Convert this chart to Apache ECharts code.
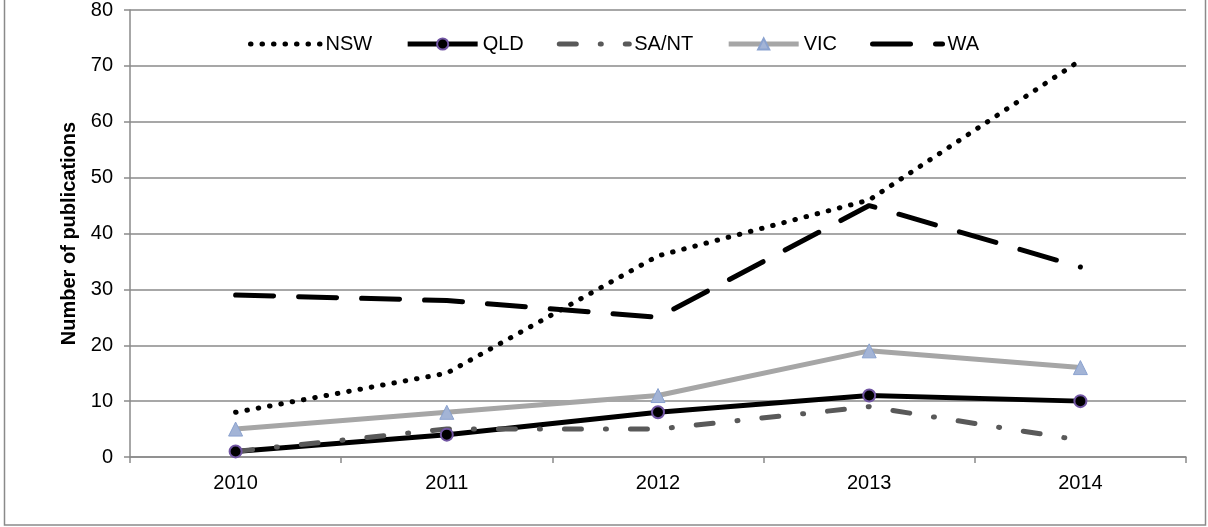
<!DOCTYPE html>
<html>
<head>
<meta charset="utf-8">
<script src="https://cdn.jsdelivr.net/npm/echarts@6/dist/echarts.min.js"></script>
<style>
html, body { margin: 0; padding: 0; background: #fff; }
#main { width: 1208px; height: 527px; }
</style>
</head>
<body>
<div id="main"></div>
<script>
// publications per state
var years = ['2010', '2011', '2012', '2013', '2014'];
var nsw = [8, 15, 36, 46, 71];
var qld = [1, 4, 8, 11, 10];
var sant = [1, 5, 5, 9, 3];
var vic = [5, 8, 11, 19, 16];
var wa = [29, 28, 25, 45, 34];
var yTicks = [0, 80, 10]; // min, max, step

var font = 'Liberation Sans, Arial, sans-serif';
var gridColor = '#8a8a8a';

var myChart = echarts.init(document.getElementById('main'));

var nswLine = { color: '#000', width: 5, type: [0.5, 11], cap: 'round' };
var qldLine = { color: '#000', width: 5 };
var santLine = { color: '#595959', width: 5, type: [17, 24, 1, 24], cap: 'round' };
var vicLine = { color: '#a6a6a6', width: 5 };
var waLine = { color: '#000', width: 5, type: [38, 25], cap: 'round' };
var noMark = { opacity: 0 };

option = {
	backgroundColor : '#ffffff',
	animation : false,
	textStyle : { fontFamily : font },
	graphic : [ {
		type : 'rect',
		shape : { x : 4.5, y : -10, width : 1201, height : 535 },
		style : { fill : 'none', stroke : gridColor, lineWidth : 1.5 },
		silent : true
	} ],
	legend : {
		left : 243,
		top : 29,
		itemWidth : 70,
		itemHeight : 14,
		itemGap : 33,
		textStyle : { fontSize : 20, color : '#000', fontFamily : font },
		data : [
			{ name : 'NSW', lineStyle : nswLine, itemStyle : noMark },
			{ name : 'QLD', lineStyle : qldLine },
			{ name : 'SA/NT', lineStyle : santLine, itemStyle : noMark },
			{ name : 'VIC', lineStyle : vicLine },
			{ name : 'WA', lineStyle : waLine, itemStyle : noMark }
		]
	},
	grid : {
		left : 130,
		right : 22,
		top : 9,
		bottom : 70
	},
	xAxis : {
		type : 'category',
		data : years,
		boundaryGap : true,
		axisLine : { lineStyle : { color : gridColor, width : 1.5 } },
		axisTick : { show : true, length : 6, lineStyle : { color : gridColor, width : 1.5 } },
		axisLabel : { color : '#000', fontSize : 20, margin : 16, fontFamily : font }
	},
	yAxis : {
		type : 'value',
		min : yTicks[0],
		max : yTicks[1],
		interval : yTicks[2],
		name : 'Number of publications',
		nameLocation : 'middle',
		nameGap : 50,
		nameTextStyle : { color : '#000', fontSize : 20, fontWeight : 'bold', fontFamily : font },
		axisLine : { show : true, lineStyle : { color : gridColor, width : 1.5 } },
		axisTick : { show : true, length : 6, lineStyle : { color : gridColor, width : 1.5 } },
		axisLabel : { color : '#000', fontSize : 20, margin : 17, fontFamily : font },
		splitLine : { lineStyle : { color : gridColor, width : 1.5 } }
	},
	series : [ {
		name : 'NSW',
		type : 'line',
		symbol : 'none',
		lineStyle : nswLine,
		itemStyle : { color : '#000' },
		data : nsw
	}, {
		name : 'QLD',
		type : 'line',
		symbol : 'circle',
		symbolSize : 12,
		lineStyle : qldLine,
		itemStyle : { color : '#000', borderColor : '#7155a3', borderWidth : 2 },
		data : qld
	}, {
		name : 'SA/NT',
		type : 'line',
		symbol : 'none',
		lineStyle : santLine,
		itemStyle : { color : '#595959' },
		data : sant
	}, {
		name : 'VIC',
		type : 'line',
		symbol : 'triangle',
		symbolSize : 14,
		lineStyle : vicLine,
		itemStyle : { color : '#a3b4d6', borderColor : '#8aa2cf', borderWidth : 1 },
		data : vic
	}, {
		name : 'WA',
		type : 'line',
		symbol : 'none',
		lineStyle : waLine,
		itemStyle : { color : '#000' },
		data : wa
	} ]
};
myChart.setOption(option);
</script>
</body>
</html>
